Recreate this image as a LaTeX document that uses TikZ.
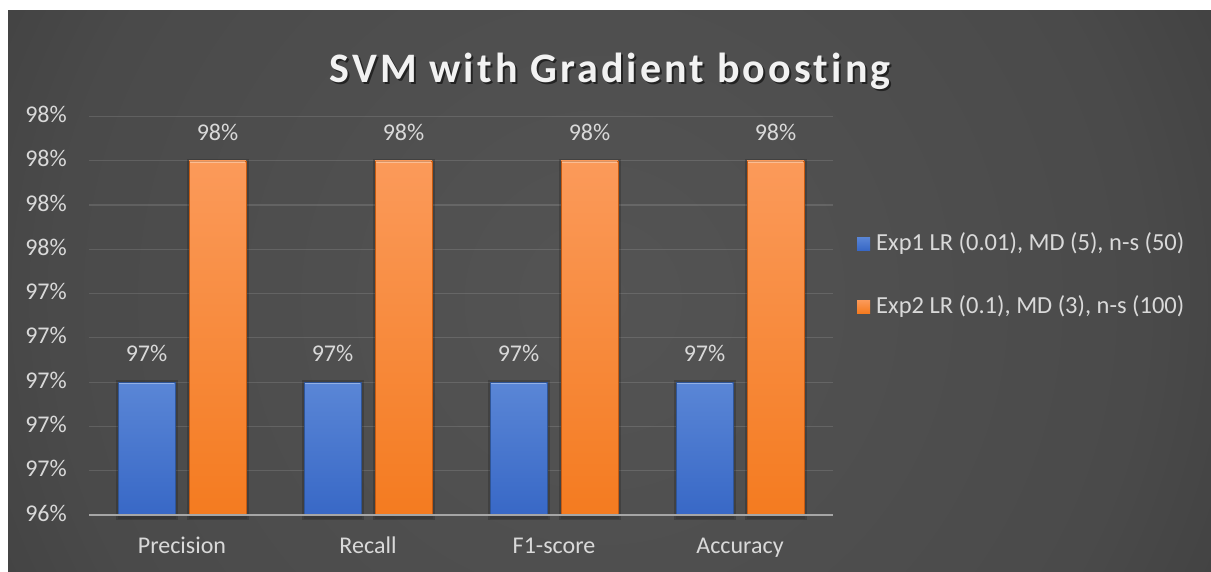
\documentclass[tikz,border=0pt]{standalone}
\usepackage{fontspec}
\setmainfont[Ligatures=NoCommon]{Carlito}
\newfontfamily\titlefont[LetterSpace=7.5,Ligatures={NoCommon,NoRequired}]{Carlito}
\usetikzlibrary{calc}

\definecolor{bgc0}{HTML}{545454}
\definecolor{bgc1}{HTML}{4A4A4A}
\definecolor{bgc2}{HTML}{3E3E3E}
\definecolor{bgc3}{HTML}{2D2D2D}
\definecolor{bgc4}{HTML}{262626}
\definecolor{labelgray}{HTML}{D9D9D9}
\definecolor{titlegray}{HTML}{F2F2F2}
\definecolor{axisgray}{HTML}{A6A6A6}
\definecolor{blueTop}{HTML}{5A86D6}
\definecolor{blueBot}{HTML}{3868C6}
\definecolor{blueEdge}{HTML}{2F5597}
\definecolor{orangeTop}{HTML}{FB9A5A}
\definecolor{orangeBot}{HTML}{F47B20}
\definecolor{orangeEdge}{HTML}{C55A11}

\pgfdeclareradialshading{chartbg}{\pgfpoint{0bp}{0bp}}{%
  color(0bp)=(bgc0); color(20bp)=(bgc1); color(28bp)=(bgc2);
  color(42bp)=(bgc3); color(50bp)=(bgc4)}

\tikzset{
  ticklabel/.style={font=\fontsize{24}{28}\selectfont, text=labelgray, inner sep=0pt},
  datalabel/.style={font=\fontsize{24}{28}\selectfont, text=labelgray, inner sep=0pt, anchor=base},
  catlabel/.style={font=\fontsize{24}{28}\selectfont, text=labelgray, inner sep=0pt, anchor=base},
  legendtext/.style={font=\fontsize{24.5}{29}\selectfont, text=labelgray, inner sep=0pt, anchor=base west},
  gridline/.style={draw=white, draw opacity=0.12, line width=1.2pt},
  axisline/.style={draw=axisgray, line width=2.2pt},
  barbase/.style={rectangle, inner sep=0pt, outer sep=0pt, minimum width=57pt, anchor=south},
  bluebar/.style={barbase, top color=blueTop, bottom color=blueBot, draw=blueEdge, line width=0.6pt},
  orangebar/.style={barbase, top color=orangeTop, bottom color=orangeBot, draw=orangeEdge, line width=0.6pt},
  legendbox/.style={rectangle, inner sep=0pt, minimum size=13pt},
}

\begin{document}
\begin{tikzpicture}[x=1pt,y=-1pt]
\useasboundingbox (0,0) rectangle (1211,571);
\fill[white] (0,0) rectangle (1211,571);

% chart area with a radial gradient
\begin{scope}
  \clip (8,10) rectangle (1211,571);
  \shade[shading=chartbg] (-80,-380) rectangle (1280,980);
\end{scope}

% title with a soft drop shadow
\node[font=\titlefont\bfseries\fontsize{42}{48}\selectfont, text=black, opacity=0.55, anchor=base, inner sep=0pt]
  (titleshadow) at (612,84) {SVM with Gradient boosting};
\node[font=\titlefont\bfseries\fontsize{42}{48}\selectfont, text=titlegray, anchor=base, inner sep=0pt]
  (title) at (610,82) {SVM with Gradient boosting};

% horizontal gridlines
\foreach \k in {1,...,9}
  \draw[gridline] (89,{515-44.28*\k}) -- (833,{515-44.28*\k});

% value axis labels
\foreach \lab [count=\k from 0] in {96\%,97\%,97\%,97\%,97\%,97\%,98\%,98\%,98\%,98\%}
  \node[ticklabel, anchor=east] (ytick\k) at (67,{513-44.28*\k}) {\lab};

% bars, their shadows and data labels
\foreach \cat [count=\i from 0] in {Precision,Recall,F1-score,Accuracy} {
  \pgfmathsetmacro{\bx}{146.5+186*\i}
  \pgfmathsetmacro{\ox}{217.5+186*\i}
  \pgfmathsetmacro{\cx}{182+186*\i}
  % soft shadows around the bars
  \fill[black, opacity=0.18] ({\bx-31},380) rectangle ({\bx+31},520);
  \fill[black, opacity=0.18] ({\ox-31},158.5) rectangle ({\ox+31},520);
  \fill[black, opacity=0.10] ({\bx-29},515) rectangle ({\bx+29},519);
  \fill[black, opacity=0.10] ({\ox-29},515) rectangle ({\ox+29},519);
  \node[bluebar, minimum height=132.8pt] (blue\i) at (\bx,515) {};
  \node[orangebar, minimum height=354.2pt] (orange\i) at (\ox,515) {};
  % light bevel along the top edges
  \draw[white, opacity=0.35, line width=1.5pt] ([xshift=1pt,yshift=-1.2pt]blue\i.north west) -- ([xshift=-1pt,yshift=-1.2pt]blue\i.north east);
  \draw[white, opacity=0.35, line width=1.5pt] ([xshift=1pt,yshift=-1.2pt]orange\i.north west) -- ([xshift=-1pt,yshift=-1.2pt]orange\i.north east);
  \node[datalabel] (bluelab\i) at ([yshift=20.5pt]blue\i.north) {97\%};
  \node[datalabel] (orangelab\i) at ([yshift=20.5pt]orange\i.north) {98\%};
  \node[catlabel] (cat\i) at (\cx,553) {\cat};
}

% category axis
\draw[axisline] (89,515) -- (833,515);

% legend
\node[legendbox, top color=blueTop, bottom color=blueBot] (legblue) at (863.5,243.5) {};
\node[legendtext] (legbluetext) at (876,250) {Exp1 LR (0.01), MD (5), n-s (50)};
\node[legendbox, top color=orangeTop, bottom color=orangeBot] (legorange) at (863.5,306.5) {};
\node[legendtext] (legorangetext) at (876,313) {Exp2 LR (0.1), MD (3), n-s (100)};
\end{tikzpicture}
\end{document}
